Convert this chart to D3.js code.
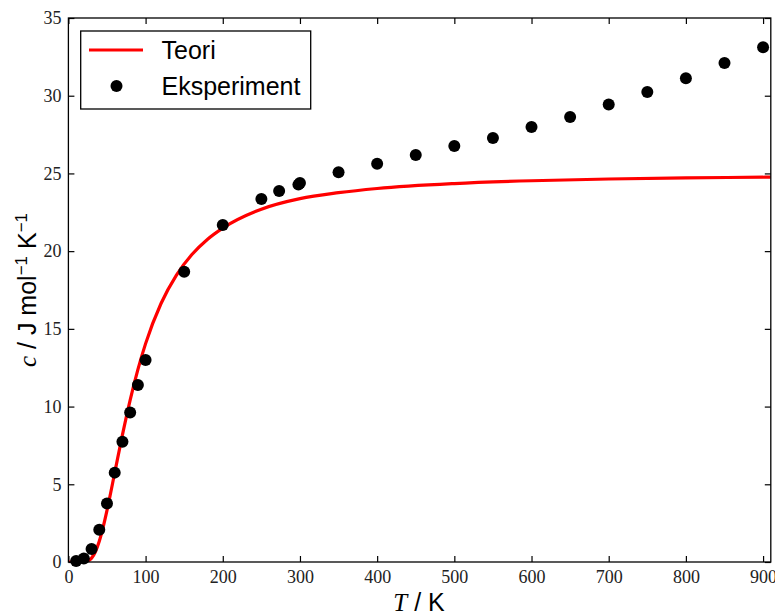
<!DOCTYPE html>
<html>
<head>
<meta charset="utf-8">
<script src="https://cdn.jsdelivr.net/npm/d3@7"></script>
<style>
  html, body { margin: 0; padding: 0; background: #fff; }
  svg { display: block; }
  .tick text { font-family: "Liberation Serif", "Times New Roman", serif; font-size: 18px; fill: #222; }
</style>
</head>
<body>
<svg id="chart" width="775" height="613"></svg>
<script>
// Measured heat capacity (T in K, c in J mol^-1 K^-1)
const expT = [10, 20, 30, 40, 50, 60, 70, 80, 90, 100, 150, 200, 250, 273, 298, 300,
              350, 400, 450, 500, 550, 600, 650, 700, 750, 800, 850, 900];
const expC = [0.06, 0.23, 0.84, 2.08, 3.77, 5.75, 7.74, 9.62, 11.39, 13.0, 18.67, 21.68, 23.36, 23.87, 24.28, 24.38,
              25.08, 25.63, 26.19, 26.77, 27.28, 27.99, 28.63, 29.43, 30.24, 31.13, 32.1, 33.12];

// Theoretical curve, sampled along T
const theoT = [0, 10, 20, 25, 30, 35, 40, 45, 50, 60, 70, 80, 90, 100, 120, 140, 160, 180, 200,
               250, 300, 350, 400, 500, 600, 700, 800, 910];
const theoC = [0, 0, 0.006, 0.06, 0.25, 0.66, 1.33, 2.24, 3.32, 5.74, 8.18, 10.42, 12.38, 14.05, 16.63, 18.46, 19.78, 20.75, 21.48,
               22.7, 23.38, 23.76, 24.03, 24.35, 24.53, 24.64, 24.71, 24.76];

const xTicks = [0, 100, 200, 300, 400, 500, 600, 700, 800, 900];
const yTicks = [0, 5, 10, 15, 20, 25, 30, 35];
const seriesNames = ["Teori", "Eksperiment"];

const svg = d3.select("#chart");
const W = 775, H = 613;
const m = { left: 68.4, right: W - 770.8, top: 18, bottom: H - 562 };
const iw = W - m.left - m.right, ih = H - m.top - m.bottom;

svg.append("rect").attr("width", W).attr("height", H).attr("fill", "#fff");

const x = d3.scaleLinear().domain([0, 910]).range([0, iw]);
const y = d3.scaleLinear().domain([0, 35]).range([ih, 0]);

const g = svg.append("g").attr("transform", `translate(${m.left},${m.top})`);

g.append("clipPath").attr("id", "plotClip")
  .append("rect").attr("width", iw).attr("height", ih);

// Inward ticks on all four sides
const tick = 6;
const styleAxis = sel => {
  sel.select(".domain").remove();
  sel.selectAll(".tick line").attr("stroke", "#000").attr("stroke-width", 1.2);
};
g.append("g").attr("transform", `translate(0,${ih})`)
  .call(d3.axisBottom(x).tickValues(xTicks).tickSize(-tick).tickPadding(8).tickFormat(d3.format("d")))
  .call(styleAxis);
g.append("g")
  .call(d3.axisTop(x).tickValues(xTicks).tickSize(-tick).tickFormat(""))
  .call(styleAxis);
g.append("g")
  .call(d3.axisLeft(y).tickValues(yTicks).tickSize(-tick).tickPadding(7).tickFormat(d3.format("d")))
  .call(styleAxis);
g.append("g").attr("transform", `translate(${iw},0)`)
  .call(d3.axisRight(y).tickValues(yTicks).tickSize(-tick).tickFormat(""))
  .call(styleAxis);

// Theory curve
const theory = theoT.map((t, i) => ({ t, c: theoC[i] }));
g.append("path")
  .datum(theory)
  .attr("clip-path", "url(#plotClip)")
  .attr("fill", "none")
  .attr("stroke", "#ff0000")
  .attr("stroke-width", 3.2)
  .attr("d", d3.line().x(d => x(d.t)).y(d => y(d.c)).curve(d3.curveMonotoneX));

// Experimental points
const meas = expT.map((t, i) => ({ t, c: expC[i] }));
g.append("g").selectAll("circle")
  .data(meas).join("circle")
  .attr("cx", d => x(d.t))
  .attr("cy", d => y(d.c))
  .attr("r", 6)
  .attr("fill", "#000");

// Frame
g.append("rect").attr("width", iw).attr("height", ih)
  .attr("fill", "none").attr("stroke", "#000").attr("stroke-width", 1.3);

// Legend
const lg = svg.append("g");
lg.append("rect").attr("x", 80.7).attr("y", 31).attr("width", 230).attr("height", 78)
  .attr("fill", "#fff").attr("stroke", "#000").attr("stroke-width", 1.3);
lg.append("line").attr("x1", 89).attr("x2", 143).attr("y1", 50).attr("y2", 50)
  .attr("stroke", "#ff0000").attr("stroke-width", 3.2);
lg.append("circle").attr("cx", 116.5).attr("cy", 86).attr("r", 6).attr("fill", "#000");
lg.selectAll("text.leg").data(seriesNames).join("text")
  .attr("class", "leg")
  .attr("x", 161.5)
  .attr("y", (d, i) => 59 + i * 36)
  .attr("font-family", "'Liberation Sans', Arial, sans-serif")
  .attr("font-size", 25)
  .attr("fill", "#000")
  .text(d => d);

// Axis titles
const xt = svg.append("text")
  .attr("x", 419).attr("y", 611)
  .attr("text-anchor", "middle")
  .attr("font-size", 25)
  .attr("fill", "#000");
xt.append("tspan").attr("font-family", "'Liberation Serif', serif").attr("font-style", "italic").text("T");
xt.append("tspan").attr("font-family", "'Liberation Sans', Arial, sans-serif").text(" / K");

const yt = svg.append("text")
  .attr("transform", `translate(36,${m.top + ih / 2}) rotate(-90)`)
  .attr("text-anchor", "middle")
  .attr("font-size", 25)
  .attr("font-family", "'Liberation Sans', Arial, sans-serif")
  .attr("fill", "#000");
yt.append("tspan").attr("font-family", "'Liberation Serif', serif").attr("font-style", "italic").text("c");
yt.append("tspan").text(" / J mol");
yt.append("tspan").attr("font-size", 17).attr("dy", -9).text("−1");
yt.append("tspan").attr("dy", 9).text(" K");
yt.append("tspan").attr("font-size", 17).attr("dy", -9).text("−1");
</script>
</body>
</html>
